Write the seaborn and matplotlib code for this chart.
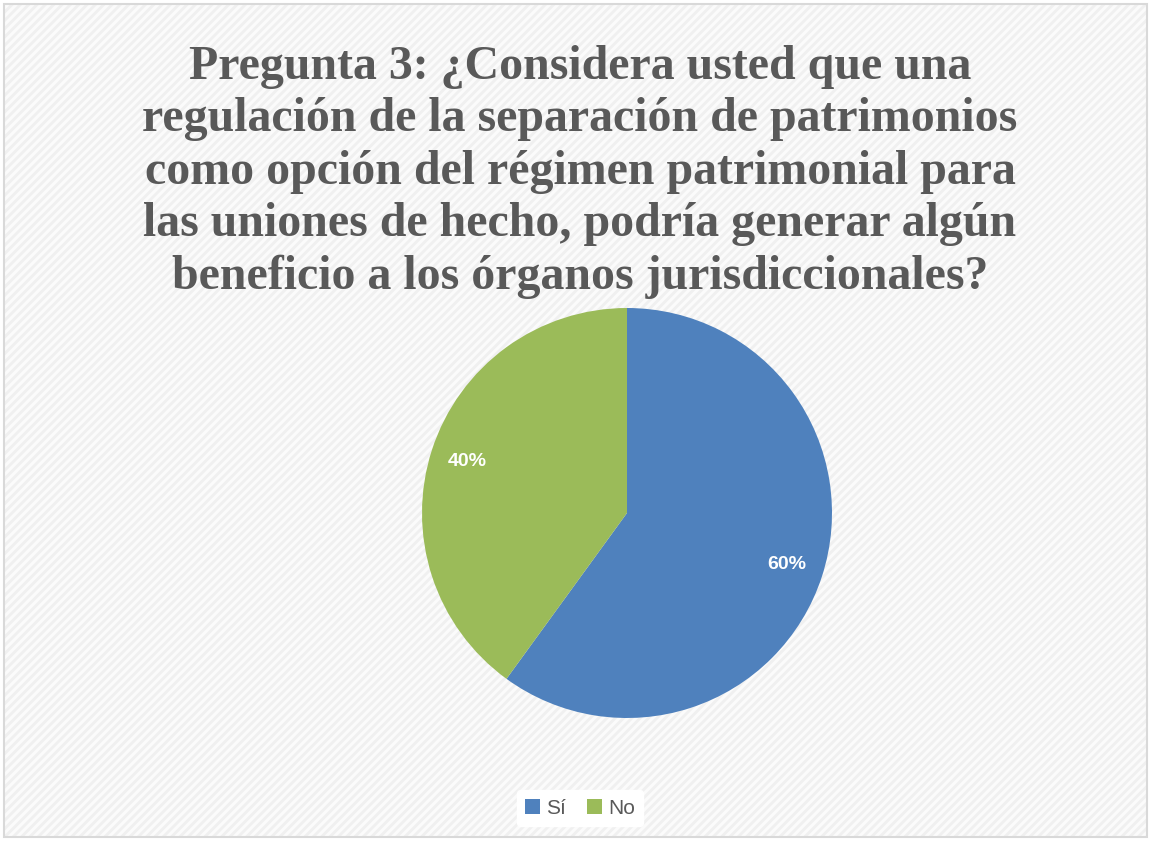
import matplotlib
matplotlib.use("Agg")
import matplotlib.pyplot as plt
import seaborn as sns
from matplotlib.patches import Rectangle, Patch

categories = ["Sí", "No"]
values = [60, 40]
colors = ["#4F81BD", "#9BBB59"]
title = ("Pregunta 3: ¿Considera usted que una\n"
         "regulación de la separación de patrimonios\n"
         "como opción del régimen patrimonial para\n"
         "las uniones de hecho, podría generar algún\n"
         "beneficio a los órganos jurisdiccionales?")

sns.set_theme(style="white")
plt.rcParams['font.family'] = ['Liberation Sans', 'DejaVu Sans']
plt.rcParams['hatch.linewidth'] = 2.0
plt.rcParams['hatch.color'] = '#f0f0f0'

W, H = 1151, 841
fig = plt.figure(figsize=(W / 100, H / 100), dpi=100)
fig.patch.set_facecolor("white")

# background with subtle diagonal pattern and border
bg = Rectangle((4 / W, 4 / H), 1 - 8 / W, 1 - 8 / H, transform=fig.transFigure,
               facecolor="#fbfbfb", edgecolor="#f0f0f0", hatch="////", linewidth=0, zorder=-3)
fig.patches.append(bg)
border = Rectangle((4 / W, 4 / H), 1 - 8 / W, 1 - 8 / H, transform=fig.transFigure,
                   facecolor="none", edgecolor="#d9d9d9", linewidth=1.5, zorder=-2)
fig.patches.append(border)

cx, cy, r = 627, 513, 205
ax = fig.add_axes([(cx - r) / W, (H - cy - r) / H, 2 * r / W, 2 * r / H])
ax.set_zorder(1)
wedges, texts, autotexts = ax.pie(values, colors=colors, startangle=90, counterclock=False,
                                  autopct=lambda p: f"{p:.0f}%", pctdistance=0.82,
                                  wedgeprops=dict(linewidth=0),
                                  textprops=dict(color="white", fontsize=14, fontweight="bold"))
ax.set_xlim(-1, 1)
ax.set_ylim(-1, 1)
ax.set_aspect("equal")
ax.axis("off")

fig.text(580 / W, 1 - 172 / H, title, ha="center", va="center",
         fontsize=34.5, fontweight="bold", color="#595959",
         family=["Liberation Serif", "DejaVu Serif"], linespacing=1.25, zorder=5)

handles = [Patch(facecolor=c, edgecolor="none") for c in colors]
leg = fig.legend(handles, categories, loc="center", bbox_to_anchor=(580 / W, 1 - 808 / H),
                 ncol=2, frameon=True, fontsize=15, handlelength=0.7, handleheight=0.7,
                 handletextpad=0.3, columnspacing=1.0, borderpad=0.4)
leg.get_frame().set_facecolor("white")
leg.get_frame().set_edgecolor("white")
leg.get_frame().set_alpha(1)
for t in leg.get_texts():
    t.set_color("#595959")

fig.savefig("out.png", dpi=100)
